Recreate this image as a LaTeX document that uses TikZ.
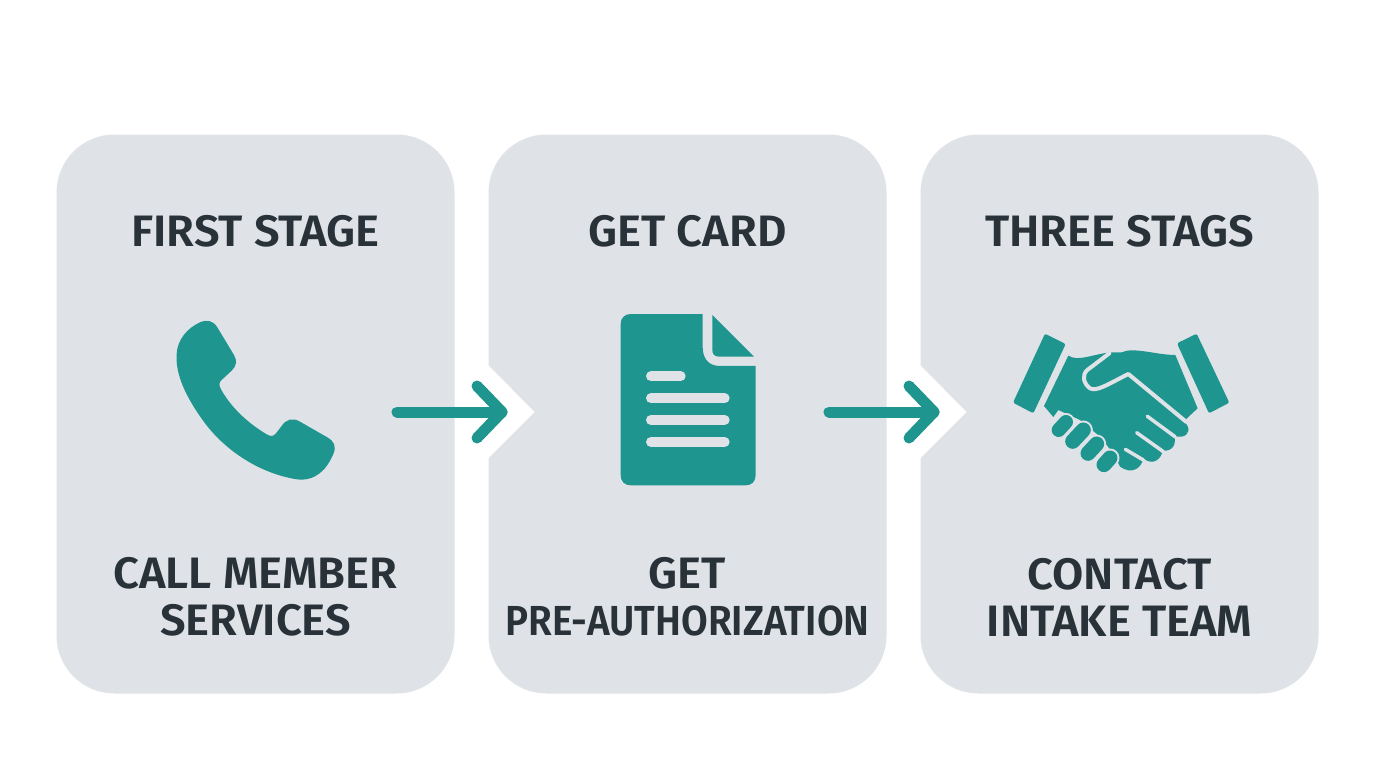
\documentclass[tikz,border=0pt]{standalone}
\usepackage{fontspec}
\setmainfont{Fira Sans SemiBold}[FakeStretch=1.03]
\definecolor{cardc}{HTML}{DFE3E7}
\definecolor{teal1}{HTML}{1F958F}
\definecolor{inkc}{HTML}{283238}
\newcommand{\bigt}{\fontsize{44}{47}\selectfont}
\newcommand{\smlt}{\fontsize{42}{47}\selectfont}
\tikzset{
  card/.style={fill=cardc,rounded corners=58pt,minimum width=398pt,minimum height=559pt,inner sep=0pt,outer sep=0pt},
  lbl/.style={text=inkc,font=\bigt,align=center,inner sep=0pt},
  flow/.style={draw=teal1,line width=11pt,line cap=round,line join=round},
  notch/.style={fill=white,draw=none},
  icon/.style={fill=teal1,draw=none},
  gap/.style={draw=cardc,line cap=round,line join=round},
  capsule/.style={draw=teal1,line cap=round}
}
\begin{document}
\begin{tikzpicture}[x=1pt,y=-1pt]
\useasboundingbox (0,0) rectangle (1376,768);
\fill[white] (0,0) rectangle (1376,768);
\node[card] (c1) at (255.5,414) {};
\node[card] (c2) at (687.5,414) {};
\node[card] (c3) at (1119.5,414) {};
% notches
\fill[notch] (488,365) -- (534.5,412) -- (488,458.5) -- cycle;
\fill[notch] (920,365) -- (966.5,412) -- (920,458.5) -- cycle;
% labels
\node[lbl] (t1) at (255.5,231) {FIRST STAGE};
\node[lbl] (t2) at (687.5,231) {GET CARD};
\node[lbl] (t3) at (1119.5,231) {THREE STAGS};
\node[lbl] (b1) at (255.5,597) {CALL MEMBER\\SERVICES};
\node[lbl] (b2) at (687.5,597) {GET\\\scalebox{0.895}[1]{\smlt PRE-AUTHORIZATION}};
\node[lbl] (b3) at (1119.5,597) {CONTACT\\INTAKE TEAM};
% arrows
\coordinate (a1s) at (397,412); \coordinate (a1e) at (502,412);
\coordinate (a1u) at (477,386); \coordinate (a1d) at (477,438);
\coordinate (a2s) at (829,412); \coordinate (a2e) at (934,412);
\coordinate (a2u) at (909,386); \coordinate (a2d) at (909,438);
\draw[flow] (a1s) -- (a1e);
\draw[flow] (a1u) -- (a1e) -- (a1d);
\draw[flow] (a2s) -- (a2e);
\draw[flow] (a2u) -- (a2e) -- (a2d);
% phone
\begin{scope}[shift={(150,300)},x=0.3333pt,y=-0.3333pt]
\fill[icon] (150,67) .. controls (172,58) and (190,62) .. (202,82)
 -- (252,165) .. controls (262,182) and (260,198) .. (245,212)
 -- (215,240) .. controls (207,247) and (206,255) .. (213,268)
 .. controls (245,325) and (295,370) .. (350,403)
 .. controls (362,410) and (370,410) .. (378,400)
 -- (395,378) .. controls (408,358) and (428,352) .. (450,365)
 -- (532,412) .. controls (553,424) and (560,440) .. (550,462)
 .. controls (530,510) and (495,545) .. (440,538)
 .. controls (330,520) and (230,455) .. (165,370)
 .. controls (110,295) and (75,225) .. (80,160)
 .. controls (83,120) and (110,85) .. (150,67) -- cycle;
\end{scope}
% document
\begin{scope}[shift={(600,300)},x=0.3333pt,y=-0.3333pt]
\fill[icon] (92,42) -- (308,42) -- (308,140) .. controls (308,175) and (325,198) .. (360,198)
 -- (467,198) -- (467,525) .. controls (467,545) and (455,556) .. (437,556)
 -- (92,556) .. controls (74,556) and (62,545) .. (62,525)
 -- (62,72) .. controls (62,54) and (74,42) .. (92,42) -- cycle;
\fill[icon] (337,45) -- (462,170) -- (358,170) .. controls (344,170) and (337,163) .. (337,150) -- cycle;
\draw[gap,line width=10pt] (153,229) -- (242,229);
\draw[gap,line width=10pt] (153,295) -- (374,295);
\draw[gap,line width=10pt] (153,360) -- (374,360);
\draw[gap,line width=10pt] (153,426) -- (374,426);
\end{scope}
% handshake
\begin{scope}[shift={(1000,320)},x=0.3333pt,y=-0.3333pt]
% cuffs
\fill[icon,rounded corners=2pt] (135,41) -- (197,72) -- (100,280) -- (39,248) -- cycle;
\fill[icon,rounded corners=2pt] (590,41) -- (531,70) -- (627,280) -- (688,248) -- cycle;
% silhouette
\fill[icon] (205,107) .. controls (235,125) and (270,105) .. (330,97)
 -- (365,97) .. controls (400,80) and (470,105) .. (526,105)
 -- (593,265) -- (565,291) -- (552,305)
 .. controls (572,322) and (570,345) .. (545,350)
 .. controls (535,352) and (530,350) .. (522,346)
 .. controls (530,370) and (520,395) .. (488,392)
 .. controls (485,415) and (460,440) .. (430,415)
 .. controls (425,445) and (395,465) .. (360,440)
 -- (340,400) -- (300,350) -- (240,300) -- (175,270) -- (160,291) -- (132,258) -- cycle;
% thumb line
\draw[gap,line width=4pt] (328,100) -- (262,150) .. controls (245,165) and (250,190) .. (270,205)
 .. controls (290,215) and (320,195) .. (385,162) -- (558,305);
% finger gaps
\draw[gap,line width=3.5pt] (442,289) -- (525,350);
\draw[gap,line width=3.5pt] (410,338) -- (490,395);
\draw[gap,line width=3.5pt] (376,388) -- (430,420);
% left fingers
\draw[gap,line width=18pt] (176,330) -- (198,306);
\draw[capsule,line width=14pt] (176,330) -- (198,306);
\draw[gap,line width=19pt] (218,364) -- (250,330);
\draw[capsule,line width=15pt] (218,364) -- (250,330);
\draw[gap,line width=19pt] (264,400) -- (290,372);
\draw[capsule,line width=15pt] (264,400) -- (290,372);
\draw[gap,line width=19pt] (312,434) -- (330,414);
\draw[capsule,line width=15pt] (312,434) -- (330,414);
\end{scope}
\end{tikzpicture}
\end{document}
